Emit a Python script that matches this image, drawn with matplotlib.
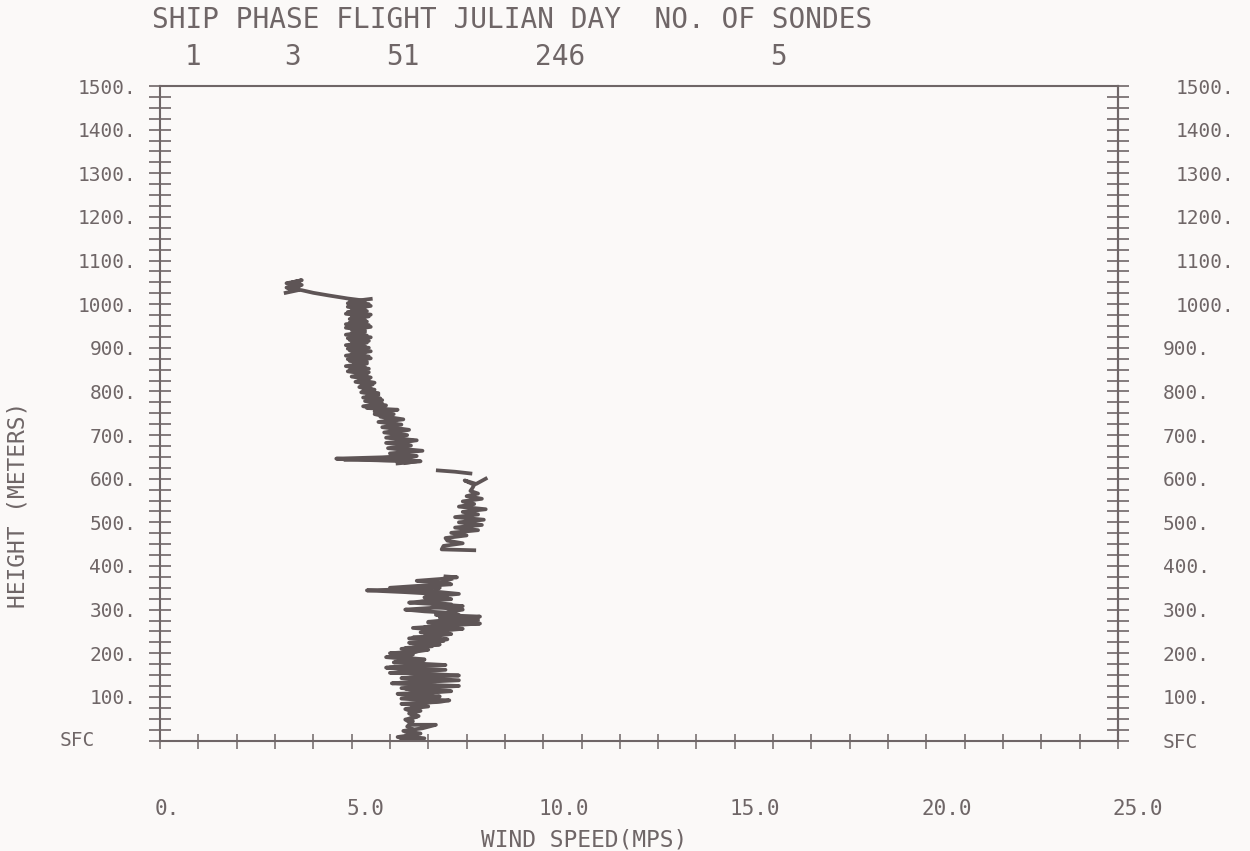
import numpy as np
import matplotlib
matplotlib.use("Agg")
import matplotlib.pyplot as plt
import matplotlib.transforms as mtransforms
from matplotlib.ticker import MultipleLocator

nan = np.nan

# flight header
header = "SHIP PHASE FLIGHT JULIAN DAY  NO. OF SONDES"
header_values = ["1", "3", "51", "246", "5"]

# wind speed (m/s) against height (m) for each sonde
sonde1_height = [0, 5, 10, 16, 22, 28, 36, 36, 44, 50, 56, 62, 68, 74, 80, 84, 88, 92, 95, 98,
                 101, 104, 107, 110, 113, 116, 119, 122, 125, 128, 131, 134, 137, 140, 143, 146,
                 149, 152, 155, 158, 161, 164, 167, 170, 173, 176, 179, 182, 185, 188, 191, 194,
                 197, 200, 204, 208, 212, 216, 220, 224, 228, 232, 236, 240, 244, 248, 252, 256,
                 260, 264, 268, 272, 276, 280, 284, 288, 292, 296, 300, 304, 308, 312, 316, 320,
                 324, 328, 332, 336, 340, 344, 347, 350, 354, 358, 362, 366, 370, 374, 376]
sonde1_speed = [6.3, 6.9, 6.4, 6.8, 6.35, 6.85, 7.2, 6.5, 6.6, 6.5, 6.75, 6.5, 6.8, 6.55, 6.9, 6.3,
                7.2, 7.55, 6.6, 7.0, 7.3, 6.4, 6.2, 7.1, 7.6, 6.6, 6.4, 7.2, 7.8, 6.8, 6.05, 6.6,
                7.2, 6.9, 6.3, 7.0, 7.8, 7.2, 6.0, 6.5, 7.0, 6.4, 5.9, 6.6, 7.45, 6.8, 6.1, 6.6,
                6.9, 6.3, 5.9, 6.4, 6.6, 6.0, 6.7, 7.0, 6.4, 6.9, 7.3, 6.5, 7.1, 7.5, 6.6, 7.2,
                7.6, 6.8, 7.4, 7.9, 6.9, 7.6, 8.35, 7.0, 7.5, 7.9, 8.35, 7.2, 7.7, 6.9, 6.4, 7.1,
                7.9, 7.3, 6.5, 7.0, 7.6, 6.9, 7.5, 7.2, 6.4, 5.4, 6.6, 7.3, 6.9, 7.6, 7.2, 6.7,
                7.3, 7.75, 7.45]

sonde2_height = [0, 8, 14, 20, 26, 32, 40, 48, 54, 60, 66, 72, 78, 84, 90, 96, 102, 108, 114, 120,
                 126, 132, 138, 144, 150, 156, 162, 168, 174, 180, 186, 192, 198, 204, 210, 216,
                 222, 228, 234, 240, 246, 252, 258, 264, 270, 276, 282, 288, 294, 300, 306, 312,
                 318, 324, 330, 336, 342, 350, 356, 362, 370]
sonde2_speed = [6.6, 6.2, 6.7, 6.4, 6.6, 6.45, 6.55, 6.4, 6.7, 6.55, 6.6, 6.4, 7.0, 6.5, 7.4, 6.3,
                7.1, 6.5, 7.5, 6.3, 7.2, 6.2, 7.8, 6.5, 7.3, 6.2, 7.45, 6.0, 6.9, 6.3, 6.9, 6.1,
                6.5, 6.7, 6.3, 7.1, 6.6, 7.4, 6.5, 7.3, 6.9, 7.5, 6.6, 7.7, 7.0, 8.3, 7.3, 7.8,
                7.5, 7.9, 7.1, 7.6, 6.8, 7.4, 7.0, 7.8, 7.1, 6.0, 7.0, 7.3, 7.6]

sonde3_height = [436, 438, 446, 452, 458, 464, 470, 476, 482, 488, 494, 500, 506, 512, 518, 524,
                 530, 536, 542, 548, 554, 560, 566, 572, 578, 586, 596, 588, 600, nan, 619, 616, 612]
sonde3_speed = [8.2, 7.35, 7.4, 7.9, 7.5, 7.45, 8.0, 7.6, 8.3, 7.7, 8.4, 7.8, 8.45, 7.7, 8.3, 7.9,
                8.5, 7.8, 8.2, 7.9, 8.4, 8.0, 8.3, 8.1, 8.15, 8.2, 7.95, 8.25, 8.5, nan, 7.25, 7.7, 8.1]

sonde4_height = [636, 640, 644, 648, 652, 658, 664, 670, 676, 682, 688, 694, 700, 706, 712, 718,
                 724, 730, 736, 742, 748, 754, 760, 766, 772, 778, 784, 790, 796, 802, 808, 814,
                 820, 826, 832, 838, 844, 850, 856, 862, 868, 874, 880, 886, 892, 898, 904, 910,
                 916, 922, 928, 934, 940, 946, 952, 958, 964, 970, 976, 982, 988, 994, 1000, 1006,
                 1012]
sonde4_speed = [6.4, 6.7, 4.8, 6.5, 6.7, 6.2, 6.6, 5.95, 6.55, 6.2, 6.7, 5.9, 6.3, 6.1, 6.5, 6.0,
                6.2, 5.8, 6.35, 5.9, 5.6, 6.0, 5.7, 5.3, 5.8, 5.35, 5.75, 5.4, 5.7, 5.3, 5.5, 5.25,
                5.6, 5.2, 5.5, 5.15, 5.45, 4.95, 5.35, 5.05, 5.4, 4.9, 5.45, 5.0, 5.5, 4.9, 5.35, 5.0,
                5.45, 4.9, 5.4, 5.0, 5.35, 4.85, 5.45, 4.95, 5.35, 5.0, 5.5, 4.9, 5.35, 4.9, 5.45, 4.95,
                5.5]

sonde5_height = [635, 640, 643, 646, 649, 652, 658, 664, 670, 676, 682, 688, 694, 700, 706, 712,
                 718, 724, 730, 736, 742, 748, 754, 758, 762, 768, 774, 780, 786, 792, 798, 804,
                 810, 816, 822, 828, 834, 840, 846, 852, 858, 864, 870, 876, 882, 888, 894, 900,
                 906, 912, 918, 924, 930, 936, 942, 948, 954, 960, 966, 972, 978, 984, 990, 996,
                 1002, 1008, 1013, 1020, 1026, 1032, 1036, 1042, 1048, 1052, 1055, 1050, 1044,
                 1038, 1032, 1026]
sonde5_speed = [6.2, 6.8, 5.5, 4.6, 5.8, 6.4, 6.0, 6.85, 6.1, 6.5, 5.9, 6.6, 6.0, 6.45, 5.85, 6.35,
                5.8, 6.3, 5.7, 6.2, 5.75, 6.1, 5.6, 6.2, 5.4, 5.9, 5.5, 5.8, 5.3, 5.7, 5.25, 5.6,
                5.2, 5.55, 5.1, 5.45, 5.0, 5.4, 4.9, 5.45, 4.85, 5.4, 4.95, 5.5, 4.85, 5.35, 4.95, 5.45,
                4.85, 5.4, 4.95, 5.5, 4.85, 5.35, 5.0, 5.5, 4.85, 5.4, 4.95, 5.45, 4.85, 5.4, 5.0, 5.5,
                4.9, 5.35, 4.9, 4.4, 4.0, 3.7, 3.35, 3.65, 3.3, 3.55, 3.7, 3.45, 3.7, 3.3, 3.6, 3.28]

x_tick_values = [0, 5, 10, 15, 20, 25]
x_tick_labels = ["0.", "5.0", "10.0", "15.0", "20.0", "25.0"]
y_tick_values = list(range(0, 1501, 100))
y_tick_labels = ["SFC"] + [f"{v}." for v in y_tick_values[1:]]

ink = "#6f6667"
line_ink = "#5e5556"
paper = "#fbf9f8"
mono = "DejaVu Sans Mono"

W, H = 1250, 851
fig = plt.figure(figsize=(W / 100, H / 100), dpi=100, facecolor=paper)
ax = fig.add_axes([160 / W, 1 - 740.5 / H, 958 / W, 654.5 / H])
ax.set_facecolor(paper)

sondes = [(sonde1_speed, sonde1_height), (sonde2_speed, sonde2_height),
          (sonde3_speed, sonde3_height), (sonde4_speed, sonde4_height),
          (sonde5_speed, sonde5_height)]
for spd, hgt in sondes:
    ax.plot(spd, hgt, color=line_ink, lw=2.7, solid_joinstyle="round")

ax.set_xlim(0, 25)
ax.set_ylim(0, 1500)
for s in ax.spines.values():
    s.set_color(ink)
    s.set_linewidth(1.5)

# bottom axis
ax.set_xticks(x_tick_values)
ax.set_xticklabels(x_tick_labels, fontfamily=mono, fontsize=15, color=ink, ha="left")
ax.xaxis.set_minor_locator(MultipleLocator(1))
ax.tick_params(axis="x", which="both", direction="inout", length=10.8, width=1.1,
               color=ink, pad=36.5)

# left axis
ax.set_yticks(y_tick_values)
ax.set_yticklabels([""] + y_tick_labels[1:], fontfamily=mono, fontsize=14, color=ink)
ax.yaxis.set_minor_locator(MultipleLocator(25))
ax.tick_params(axis="y", which="both", direction="inout", length=16, width=1.2,
               color=ink, pad=9, left=True, right=False)

# right axis
sec = ax.secondary_yaxis("right")
sec.set_yticks(y_tick_values)
sec.set_yticklabels(y_tick_labels, fontfamily=mono, fontsize=14, color=ink, ha="left")
sec.yaxis.set_minor_locator(MultipleLocator(25))
sec.tick_params(axis="y", which="both", direction="inout", length=16.5, width=1.2,
                color=ink, pad=24)
sec.spines["right"].set_color(ink)
sec.spines["right"].set_linewidth(1.5)

shift_left = mtransforms.ScaledTranslation(-5 / 100, 0, fig.dpi_scale_trans)
for lbl in ax.get_xticklabels():
    lbl.set_transform(lbl.get_transform() + shift_left)
shift_right = mtransforms.ScaledTranslation(13 / 100, 0, fig.dpi_scale_trans)
for lbl in sec.get_yticklabels():
    if len(lbl.get_text()) > 4:
        lbl.set_transform(lbl.get_transform() + shift_right)

fig.text(60 / W, 1 - 741 / H, "SFC", fontfamily=mono, fontsize=14, color=ink,
         ha="left", va="center")

fig.text(584 / W, 1 - 840 / H, "WIND SPEED(MPS)", fontfamily=mono, fontsize=16.5,
         color=ink, ha="center", va="center")
fig.text(18 / W, 1 - 505 / H, "HEIGHT (METERS)", fontfamily=mono, fontsize=16.5,
         color=ink, ha="center", va="center", rotation=90)

fig.text(152 / W, 1 - 20 / H, header, fontfamily=mono, fontsize=20, color=ink,
         ha="left", va="center")
for txt, xp in zip(header_values, [193, 293, 403, 560, 779]):
    fig.text(xp / W, 1 - 57 / H, txt, fontfamily=mono, fontsize=20, color=ink,
             ha="center", va="center")

fig.savefig("out.png", dpi=100, facecolor=paper)
